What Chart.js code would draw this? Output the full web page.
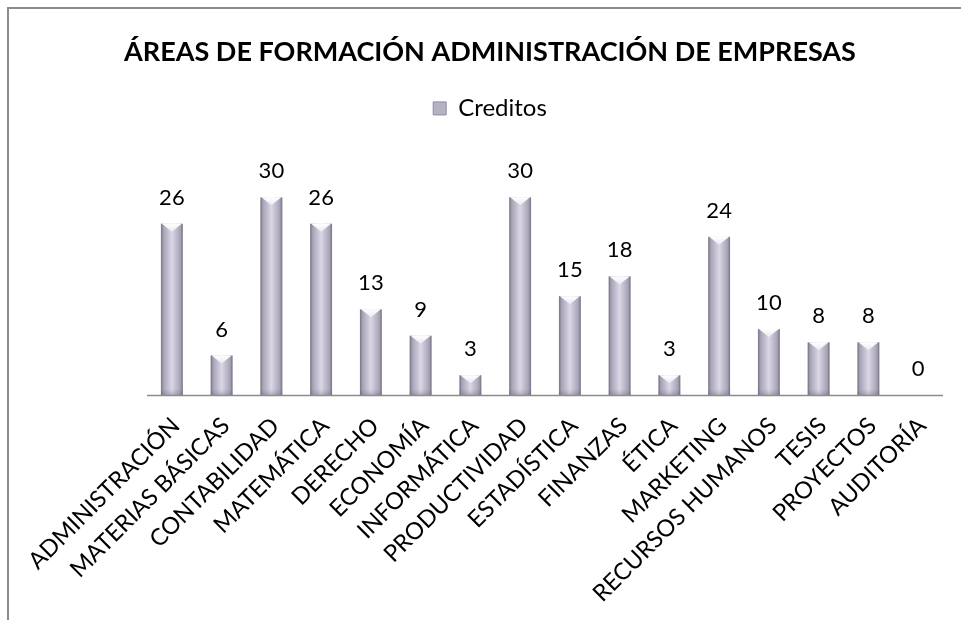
<!DOCTYPE html>
<html>
<head>
<meta charset="utf-8">
<script src="https://cdn.jsdelivr.net/npm/chart.js@4.4.0/dist/chart.umd.min.js"></script>
<style>
html,body{margin:0;padding:0;background:#fff;}
canvas{display:block;}
</style>
</head>
<body>
<canvas id="c" width="961" height="620"></canvas>
<script>
const categories = ["ADMINISTRACIÓN","MATERIAS BÁSICAS","CONTABILIDAD","MATEMÁTICA","DERECHO","ECONOMÍA","INFORMÁTICA","PRODUCTIVIDAD","ESTADÍSTICA","FINANZAS","ÉTICA","MARKETING","RECURSOS HUMANOS","TESIS","PROYECTOS","AUDITORÍA"];
const creditos = [26,6,30,26,13,9,3,30,15,18,3,24,10,8,8,0];
const seriesName = "Creditos";
const titleText = "ÁREAS DE FORMACIÓN ADMINISTRACIÓN DE EMPRESAS";

const FONT = "Lato, 'Open Sans', sans-serif";

const frame = {
  id: 'frame',
  beforeDraw(chart){
    const ctx = chart.ctx;
    ctx.save();
    ctx.fillStyle = '#fff';
    ctx.fillRect(0,0,chart.width,chart.height);
    ctx.strokeStyle = '#8c8c8c';
    ctx.lineWidth = 2;
    ctx.beginPath();
    ctx.moveTo(8, chart.height);
    ctx.lineTo(8, 8);
    ctx.lineTo(chart.width, 8);
    ctx.stroke();
    ctx.restore();
  }
};

const fancyBars = {
  id: 'fancyBars',
  afterDatasetsDraw(chart){
    const ctx = chart.ctx;
    const meta = chart.getDatasetMeta(0);
    ctx.save();
    meta.data.forEach((el, i) => {
      const p = el.getProps(['x','y','base','width'], true);
      const w = p.width, l = p.x - w/2, r = p.x + w/2, top = p.y, bot = p.base;
      const h = bot - top;
      if (h > 0.5) {
        const g = ctx.createLinearGradient(l, 0, r, 0);
        g.addColorStop(0, '#908c9d');
        g.addColorStop(0.15, '#aca7ba');
        g.addColorStop(0.5, '#dcd7e6');
        g.addColorStop(0.85, '#aca7ba');
        g.addColorStop(1, '#908c9d');
        ctx.fillStyle = g;
        ctx.fillRect(l, top, w, h);
        ctx.fillStyle = 'rgba(90,86,104,0.3)';
        ctx.fillRect(l, top, 1.5, h);
        ctx.fillRect(r-1.5, top, 1.5, h);
        const b = Math.min(8, h);
        const tg = ctx.createLinearGradient(0, top, 0, top + b);
        tg.addColorStop(0, '#ffffff');
        tg.addColorStop(1, '#ebe8f0');
        ctx.fillStyle = tg;
        ctx.beginPath();
        ctx.moveTo(l+1, top);
        ctx.lineTo(r-1, top);
        ctx.lineTo(p.x, top + b);
        ctx.closePath();
        ctx.fill();
        const bg = ctx.createLinearGradient(0, bot-6, 0, bot);
        bg.addColorStop(0, 'rgba(80,76,95,0)');
        bg.addColorStop(1, 'rgba(80,76,95,0.25)');
        ctx.fillStyle = bg;
        ctx.fillRect(l, bot-6, w, 6);
      }
      ctx.fillStyle = '#000';
      ctx.font = '22px ' + FONT;
      ctx.textAlign = 'center';
      ctx.textBaseline = 'middle';
      ctx.fillText(String(creditos[i]), p.x, top - 26);
    });
    const a = chart.chartArea;
    const y0 = chart.scales.y.getPixelForValue(0);
    ctx.strokeStyle = '#8c8c8c';
    ctx.lineWidth = 1.5;
    ctx.beginPath();
    ctx.moveTo(a.left, y0 + 0.5);
    ctx.lineTo(a.right, y0 + 0.5);
    ctx.stroke();
    ctx.restore();
  }
};

new Chart(document.getElementById('c'), {
  type: 'bar',
  data: {
    labels: categories,
    datasets: [{
      label: seriesName,
      data: creditos,
      backgroundColor: 'rgba(0,0,0,0)',
      borderWidth: 0,
      barPercentage: 0.44,
      categoryPercentage: 1.0
    }]
  },
  options: {
    responsive: false,
    animation: false,
    devicePixelRatio: 1,
    layout: { padding: { top: 0, right: 18, left: 37, bottom: 0 } },
    plugins: {
      title: {
        display: true,
        text: titleText,
        color: '#000',
        font: { family: FONT, size: 27, weight: 'bold' },
        padding: { top: 36, bottom: 18 }
      },
      legend: {
        display: true,
        position: 'top',
        labels: {
          color: '#000',
          font: { family: FONT, size: 24 },
          boxWidth: 13,
          boxHeight: 13,
          padding: 10,
          generateLabels(chart){
            return [{ text: seriesName, fillStyle: '#b7b2c3', strokeStyle: '#8f8b9c', lineWidth: 1, datasetIndex: 0 }];
          }
        }
      },
      tooltip: { enabled: false }
    },
    scales: {
      x: {
        grid: { display: false, drawTicks: false },
        border: { display: false },
        ticks: {
          color: '#000',
          font: { family: FONT, size: 23.5 },
          maxRotation: 45,
          minRotation: 45,
          autoSkip: false,
          padding: 17,
          labelOffset: 4
        },
        afterFit(s){ s.height = 225; s.paddingLeft = 147; s.paddingRight = 0; }
      },
      xTop: {
        type: 'category',
        position: 'top',
        labels: categories,
        grid: { display: false, drawTicks: false },
        border: { display: false },
        ticks: { display: false },
        afterFit(s){ s.height = 34; s.paddingLeft = 0; s.paddingRight = 0; }
      },
      y: {
        display: false,
        min: 0,
        max: 35
      }
    }
  },
  plugins: [frame, fancyBars]
});
</script>
</body>
</html>
